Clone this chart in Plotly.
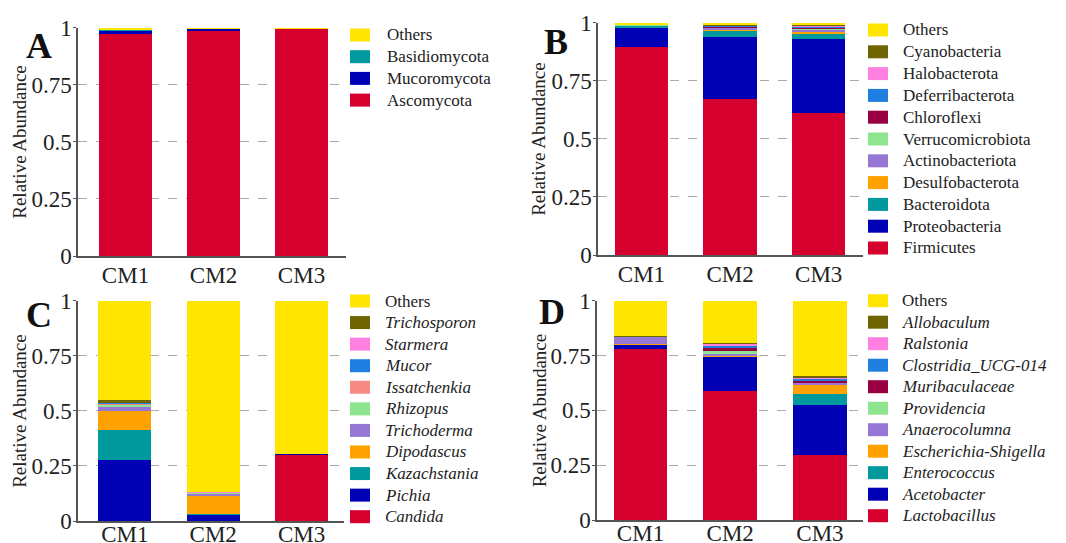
import plotly.graph_objects as go

W, H = 1066, 543
FONT = "Liberation Serif, Times New Roman, serif"
TXT = "#222222"

SAMPLES = ["CM1", "CM2", "CM3"]
Y_TICKS = [0, 0.25, 0.5, 0.75, 1]
Y_TICKTEXT = ["0", "0.25", "0.5", "0.75", "1"]
Y_TITLE = "Relative Abundance"

RED, BLUE, TEAL, ORANGE = "#D6002F", "#0000B4", "#009A9E", "#FFA100"
PURPLE, LGREEN, DRED, AZURE = "#9677D6", "#8FE48F", "#990042", "#1F7FE0"
PINK, SALMON, OLIVE, YELLOW = "#FF80E0", "#F88A84", "#6F6500", "#FFE600"

# ---- Panel A (bottom -> top) ----
A_TAXA = ["Ascomycota", "Mucoromycota", "Basidiomycota", "Others"]
A_COLORS = [RED, BLUE, TEAL, YELLOW]
A_VALUES = [
    [0.975, 0.990, 0.998],
    [0.013, 0.006, 0.001],
    [0.002, 0.001, 0.000],
    [0.010, 0.003, 0.001],
]

# ---- Panel B ----
B_TAXA = ["Firmicutes", "Proteobacteria", "Bacteroidota", "Desulfobacterota",
          "Actinobacteriota", "Verrucomicrobiota", "Chloroflexi", "Deferribacterota",
          "Halobacterota", "Cyanobacteria", "Others"]
B_COLORS = [RED, BLUE, TEAL, ORANGE, PURPLE, LGREEN, DRED, AZURE, PINK, OLIVE, YELLOW]
B_VALUES = [
    [0.895, 0.672, 0.613],
    [0.085, 0.268, 0.317],
    [0.008, 0.028, 0.022],
    [0.001, 0.002, 0.012],
    [0.002, 0.010, 0.008],
    [0.001, 0.002, 0.004],
    [0.001, 0.004, 0.003],
    [0.001, 0.003, 0.008],
    [0.0005, 0.002, 0.002],
    [0.0005, 0.001, 0.001],
    [0.005, 0.008, 0.010],
]

# ---- Panel C ----
C_TAXA = ["Candida", "Pichia", "Kazachstania", "Dipodascus", "Trichoderma",
          "Rhizopus", "Issatchenkia", "Mucor", "Starmera", "Trichosporon", "Others"]
C_COLORS = [RED, BLUE, TEAL, ORANGE, PURPLE, LGREEN, SALMON, AZURE, PINK, OLIVE, YELLOW]
C_VALUES = [
    [0.002, 0.001, 0.303],
    [0.275, 0.030, 0.003],
    [0.139, 0.003, 0.000],
    [0.084, 0.085, 0.000],
    [0.023, 0.008, 0.000],
    [0.006, 0.003, 0.000],
    [0.005, 0.001, 0.000],
    [0.004, 0.001, 0.000],
    [0.003, 0.001, 0.000],
    [0.008, 0.001, 0.000],
    [0.451, 0.866, 0.694],
]

# ---- Panel D ----
D_TAXA = ["Lactobacillus", "Acetobacter", "Enterococcus", "Escherichia-Shigella",
          "Anaerocolumna", "Providencia", "Muribaculaceae", "Clostridia_UCG-014",
          "Ralstonia", "Allobaculum", "Others"]
D_COLORS = [RED, BLUE, TEAL, ORANGE, PURPLE, LGREEN, DRED, AZURE, PINK, OLIVE, YELLOW]
D_VALUES = [
    [0.780, 0.588, 0.300],
    [0.020, 0.157, 0.224],
    [0.001, 0.002, 0.054],
    [0.001, 0.001, 0.041],
    [0.034, 0.012, 0.008],
    [0.001, 0.014, 0.002],
    [0.001, 0.016, 0.006],
    [0.001, 0.005, 0.012],
    [0.001, 0.012, 0.003],
    [0.001, 0.002, 0.007],
    [0.159, 0.191, 0.343],
]

# panel layout in pixels
PANELS = [
    dict(letter="A", taxa=A_TAXA, colors=A_COLORS, values=A_VALUES, italic=False,
         px=(78, 346), py=(256, 27.5), xr=(-0.54, 2.506), lpos=(39, 46), tx=20, xso=-2,
         leg=dict(sx=350, sw=20, tx=385, y0=35, dy=21.7)),
    dict(letter="B", taxa=B_TAXA, colors=B_COLORS, values=B_VALUES, italic=False,
         px=(598, 863), py=(255, 22.7), xr=(-0.49, 2.50), lpos=(556, 42), tx=539, xso=-2,
         leg=dict(sx=868, sw=20, tx=901, y0=30, dy=21.8)),
    dict(letter="C", taxa=C_TAXA, colors=C_COLORS, values=C_VALUES, italic=True,
         px=(78, 344), py=(521, 300.7), xr=(-0.53, 2.48), lpos=(39, 315), tx=20, xso=-8,
         leg=dict(sx=350, sw=20, tx=383, y0=301, dy=21.57)),
    dict(letter="D", taxa=D_TAXA, colors=D_COLORS, values=D_VALUES, italic=True,
         px=(597, 863), py=(520, 300.7), xr=(-0.485, 2.48), lpos=(552, 312), tx=539, xso=-8,
         leg=dict(sx=868, sw=20, tx=900, y0=300.7, dy=21.5)),
]

fig = go.Figure()
shapes, annotations = [], []

def px2x(x):
    return x / W

def px2y(y):
    return 1 - y / H

for i, p in enumerate(PANELS):
    n = i + 1
    xa = "x" if n == 1 else f"x{n}"
    ya = "y" if n == 1 else f"y{n}"
    for taxon, color, vals in zip(p["taxa"], p["colors"], p["values"]):
        fig.add_trace(go.Bar(
            x=SAMPLES, y=vals, name=taxon, marker=dict(color=color, line=dict(width=0)),
            width=0.6, xaxis=xa, yaxis=ya, showlegend=False,
        ))
    xkey = "xaxis" if n == 1 else f"xaxis{n}"
    ykey = "yaxis" if n == 1 else f"yaxis{n}"
    fig.update_layout({
        xkey: dict(domain=[px2x(p["px"][0]), px2x(p["px"][1])], anchor=ya,
                   range=list(p["xr"]), showgrid=False, zeroline=False, automargin=False,
                   showline=True, linecolor="#555555", linewidth=1.5, ticks="",
                   ticklabelstandoff=p["xso"],
                   tickfont=dict(family=FONT, size=23, color=TXT)),
        ykey: dict(domain=[px2y(p["py"][0]), px2y(p["py"][1])], anchor=xa,
                   range=[0, 1], tickvals=Y_TICKS, ticktext=Y_TICKTEXT, automargin=False,
                   showgrid=True, gridcolor="#AAAAAA", griddash="dash", gridwidth=1,
                   zeroline=False, showline=True, linecolor="#555555", linewidth=1.5,
                   ticks="outside", ticklen=3, tickcolor="#555555",
                   ticklabelstandoff=-3,
                   tickfont=dict(family=FONT, size=23, color=TXT)),
    })
    # y-axis title
    annotations.append(dict(text=Y_TITLE, x=px2x(p["tx"]), y=px2y((p["py"][0] + p["py"][1]) / 2),
                            xref="paper", yref="paper", xanchor="center", yanchor="middle",
                            textangle=-90, showarrow=False,
                            font=dict(family=FONT, size=19, color=TXT)))
    # panel letter
    annotations.append(dict(text=f"<b>{p['letter']}</b>", x=px2x(p["lpos"][0]), y=px2y(p["lpos"][1]),
                            xref="paper", yref="paper", xanchor="center", yanchor="middle",
                            showarrow=False, font=dict(family=FONT, size=36, color="#111111")))
    # legend (top = Others, i.e. reversed stacking order)
    lg = p["leg"]
    order = list(range(len(p["taxa"])))[::-1]
    for k, idx in enumerate(order):
        yc = lg["y0"] + k * lg["dy"]
        shapes.append(dict(type="rect", xref="paper", yref="paper",
                           x0=px2x(lg["sx"]), x1=px2x(lg["sx"] + lg["sw"]),
                           y0=px2y(yc + 6.5), y1=px2y(yc - 6.5),
                           fillcolor=p["colors"][idx], line=dict(width=0)))
        name = p["taxa"][idx]
        if p["italic"] and name != "Others":
            name = f"<i>{name}</i>"
        annotations.append(dict(text=name, x=px2x(lg["tx"]), y=px2y(yc), xref="paper", yref="paper",
                                xanchor="left", yanchor="middle", showarrow=False,
                                font=dict(family=FONT, size=17, color=TXT)))

fig.update_layout(
    width=W, height=H, margin=dict(l=0, r=0, t=0, b=0, autoexpand=False),
    barmode="stack", bargap=0, plot_bgcolor="white", paper_bgcolor="white",
    shapes=shapes, annotations=annotations, showlegend=False,
)

fig.write_html("out.html", config={"displayModeBar": False},
               post_script="document.body.style.margin='0';")
